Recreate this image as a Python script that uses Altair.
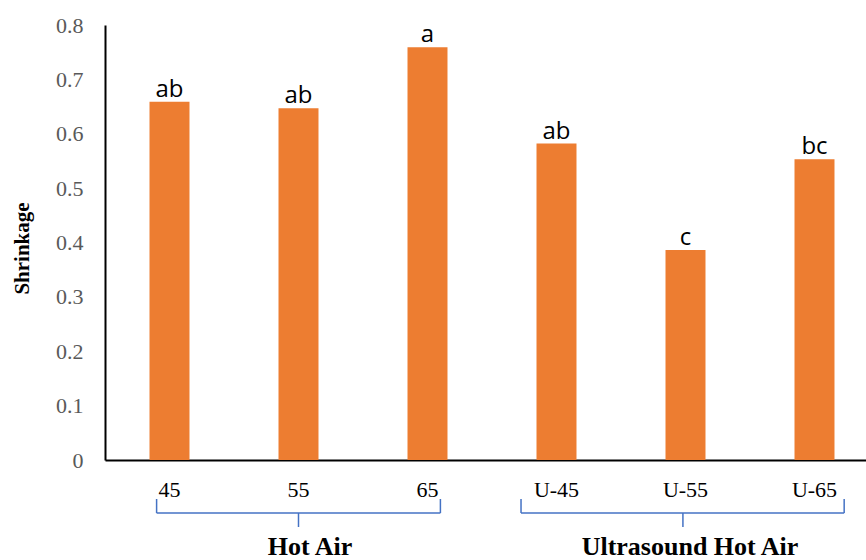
import altair as alt
import pandas as pd

categories = ["45", "55", "65", "U-45", "U-55", "U-65"]
shrinkage = [0.659, 0.647, 0.759, 0.582, 0.386, 0.553]
letters = ["ab", "ab", "a", "ab", "c", "bc"]

groups = ["Hot Air", "Ultrasound Hot Air"]
brace_start = [-0.10, 2.725]
brace_end = [2.10, 5.23]
brace_mid = [1.0, 3.98]
group_label_x = [1.09, 4.035]

bars_df = pd.DataFrame({"cat": categories, "val": shrinkage, "sig": letters})
grp_df = pd.DataFrame({"group": groups, "start": brace_start, "end": brace_end,
                       "mid": brace_mid, "lx": group_label_x})

W_RANGE = 774
ORANGE = "#ED7D31"
BLUE = "#4472C4"
SERIF = "Liberation Serif"

x_band = alt.X("cat:N", sort=categories,
               scale=alt.Scale(range=[0, W_RANGE], paddingInner=0.69, paddingOuter=0.345),
               axis=alt.Axis(title=None, labelAngle=0, labelFont=SERIF, labelFontSize=22,
                             labelColor="black", labelPadding=19, tickSize=0, ticks=False,
                             domainColor="black", domainWidth=2, grid=False))
y_enc = alt.Y("val:Q", scale=alt.Scale(domain=[0, 0.8]),
              axis=alt.Axis(title="Shrinkage", values=[0, 0.1, 0.2, 0.3, 0.4, 0.5, 0.6, 0.7, 0.8],
                            labelExpr="format(datum.value, '.1~f')",
                            labelFont=SERIF, labelFontSize=22, labelColor="#595959",
                            labelPadding=22, tickSize=0, ticks=False, grid=False,
                            domainColor="black", domainWidth=2,
                            titleFont=SERIF, titleFontWeight="bold", titleFontSize=21,
                            titleColor="black", titleAngle=270, titleX=-77, titleY=223,
                            titleBaseline="alphabetic", titleAlign="center"))

bars = alt.Chart(bars_df).mark_bar(color=ORANGE).encode(x=x_band, y=y_enc)
sig = alt.Chart(bars_df).mark_text(font="Open Sans", fontSize=24, color="black",
                                   baseline="alphabetic", dy=-5).encode(
    x=alt.X("cat:N", sort=categories), y="val:Q", text="sig:N")
main = alt.layer(bars, sig)

xq = alt.Scale(domain=[-0.5, 5.5], range=[0, W_RANGE])
horiz = alt.Chart(grp_df).mark_rule(color=BLUE, strokeWidth=1.5).encode(
    x=alt.X("start:Q", scale=xq, axis=None), x2="end:Q", y=alt.value(488))
left_end = alt.Chart(grp_df).mark_rule(color=BLUE, strokeWidth=1.5).encode(
    x=alt.X("start:Q", scale=xq, axis=None), y=alt.value(474), y2=alt.value(488))
right_end = alt.Chart(grp_df).mark_rule(color=BLUE, strokeWidth=1.5).encode(
    x=alt.X("end:Q", scale=xq, axis=None), y=alt.value(474), y2=alt.value(488))
tip = alt.Chart(grp_df).mark_rule(color=BLUE, strokeWidth=1.5).encode(
    x=alt.X("mid:Q", scale=xq, axis=None), y=alt.value(488), y2=alt.value(502))
glabels = alt.Chart(grp_df).mark_text(font=SERIF, fontSize=26, fontWeight="bold",
                                      color="black", baseline="alphabetic").encode(
    x=alt.X("lx:Q", scale=xq, axis=None), y=alt.value(530), text="group:N")

annot = alt.layer(horiz, left_end, right_end, tip, glabels)

chart = alt.layer(main, annot).resolve_scale(x="independent").properties(
    width=761, height=435,
    padding={"left": 105, "top": 25, "right": 0, "bottom": 100},
    autosize=alt.AutoSizeParams(type="none"),
    background="white",
).configure_view(stroke=None)

chart.save("out.html", embed_options={"renderer": "svg", "actions": False})
